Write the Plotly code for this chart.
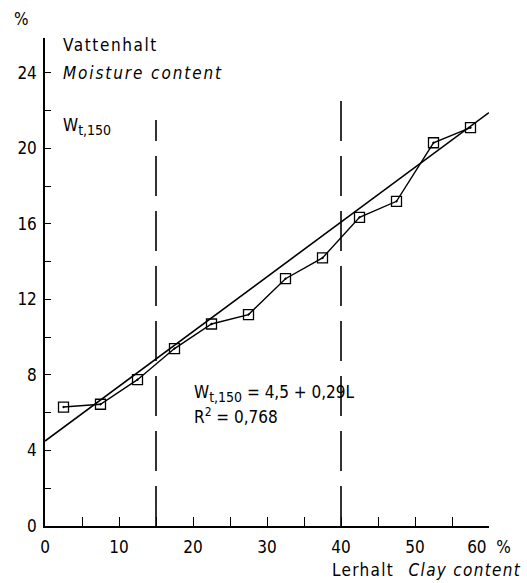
import plotly.graph_objects as go

# Data
clay = [2.5, 7.5, 12.5, 17.5, 22.5, 27.5, 32.5, 37.5, 42.5, 47.5, 52.5, 57.5]
moisture = [6.3, 6.45, 7.75, 9.4, 10.7, 11.2, 13.1, 14.2, 16.35, 17.2, 20.3, 21.1]
fit_intercept = 4.5
fit_slope = 0.29
fit_x = [0, 60]
fit_y = [fit_intercept + fit_slope * v for v in fit_x]
bound_x = [15, 40]
bound_top = [21.5, 22.6]

x_ticks = [0, 10, 20, 30, 40, 50, 60]
x_ticktext = ["0", "10", "20", "30", "40", "50", "60&nbsp;&nbsp;%"]
y_ticks = [0, 4, 8, 12, 16, 20, 24]

FONT = "DejaVu Sans Condensed"
FS = 17

fig = go.Figure()

for bx, bt in zip(bound_x, bound_top):
    fig.add_trace(go.Scatter(x=[bx, bx], y=[0, bt], mode="lines",
                             line=dict(color="black", width=1.6, dash="40px,15px"),
                             hoverinfo="skip", showlegend=False))

fig.add_trace(go.Scatter(x=fit_x, y=fit_y, mode="lines",
                         line=dict(color="black", width=1.6), showlegend=False))

fig.add_trace(go.Scatter(x=clay, y=moisture, mode="lines+markers",
                         line=dict(color="black", width=1.4),
                         marker=dict(symbol="square-open-dot", size=10, color="black",
                                     line=dict(width=1.3, color="black")),
                         showlegend=False))

plot_l, plot_r, plot_t, plot_b = 45, 489, 38, 526

fig.update_layout(
    width=527, height=583,
    margin=dict(l=plot_l, r=527 - plot_r, t=plot_t, b=583 - plot_b),
    paper_bgcolor="white", plot_bgcolor="white",
    font=dict(family=FONT, size=FS, color="black"),
    xaxis=dict(range=[0, 60], tickvals=x_ticks, ticktext=x_ticktext,
               ticks="inside", ticklen=9, tickwidth=1.3, tickcolor="black",
               minor=dict(dtick=5, ticks="inside", ticklen=9, tickwidth=1.3, tickcolor="black"),
               showline=True, linecolor="black", linewidth=1.5, ticklabelstandoff=5,
               showgrid=False, zeroline=False, tickfont=dict(size=FS)),
    yaxis=dict(range=[0, 25.85], tickvals=y_ticks,
               ticks="inside", ticklen=6, tickwidth=1.3, tickcolor="black",
               minor=dict(dtick=2, ticks="inside", ticklen=6, tickwidth=1.3, tickcolor="black"),
               showline=True, linecolor="black", linewidth=1.5, ticklabelstandoff=3,
               showgrid=False, zeroline=False, tickfont=dict(size=FS)),
)


def spaced(t, ls):
    return "<span style='letter-spacing:%.1fpx'>%s</span>" % (ls, t)


SUB = "<sub><span style='font-size:14px'>t,150</span></sub>"
anns = [
    (12, 19, "%", "left"),
    (61, 45, spaced("Vattenhalt", 1.6), "left"),
    (61, 73, "<i>" + spaced("Moisture content", 1.9) + "</i>", "left"),
    (61, 127, "W" + SUB, "left"),
    (192, 393, "W" + SUB + " = 4,5 + 0,29L", "left"),
    (192, 416, "R<sup>2</sup> = 0,768", "left"),
    (523, 570, spaced("Lerhalt", 1.3) + "&nbsp;&nbsp; <i>" + spaced("Clay content", 1.3) + "</i>", "right"),
]
for px, py, txt, xa in anns:
    fig.add_annotation(x=(px - plot_l) / (plot_r - plot_l),
                       y=(plot_b - py) / (plot_b - plot_t),
                       xref="paper", yref="paper", text=txt, xanchor=xa,
                       yanchor="middle", showarrow=False, font=dict(size=FS))

fig.write_html("out.html")
